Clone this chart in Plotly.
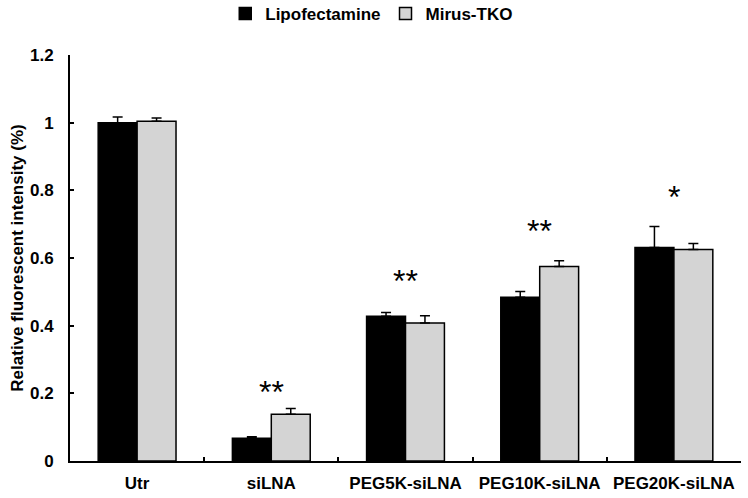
import plotly.graph_objects as go

categories = ["Utr", "siLNA", "PEG5K-siLNA", "PEG10K-siLNA", "PEG20K-siLNA"]
lipo_vals = [1.0, 0.067, 0.428, 0.484, 0.631]
lipo_err = [0.017, 0.005, 0.011, 0.017, 0.062]
mirus_vals = [1.004, 0.138, 0.408, 0.575, 0.625]
mirus_err = [0.010, 0.017, 0.021, 0.017, 0.018]
sig_labels = ["", "**", "**", "**", "*"]
sig_y = [None, 0.205, 0.533, 0.68, 0.78]
y_ticks = [0, 0.2, 0.4, 0.6, 0.8, 1.0, 1.2]
y_ticktext = ["0", "0.2", "0.4", "0.6", "0.8", "1", "1.2"]

font_family = "Liberation Sans, Arial, sans-serif"

fig = go.Figure()
fig.add_trace(go.Bar(
    name="<b>Lipofectamine</b>", x=categories, y=lipo_vals,
    marker=dict(color="black", line=dict(color="black", width=1.5)),
    error_y=dict(type="data", array=lipo_err, arrayminus=[0]*5, symmetric=False,
                 color="black", thickness=1.5, width=5),
))
fig.add_trace(go.Bar(
    name="<b>Mirus-TKO</b>", x=categories, y=mirus_vals,
    marker=dict(color="#d4d4d4", line=dict(color="black", width=1.5)),
    error_y=dict(type="data", array=mirus_err, arrayminus=[0]*5, symmetric=False,
                 color="black", thickness=1.5, width=5),
))

for c, lab, yy in zip(categories, sig_labels, sig_y):
    if lab:
        fig.add_annotation(x=c, y=yy, text=lab, showarrow=False,
                           font=dict(size=32, color="black", family=font_family),
                           xanchor="center", yanchor="middle")

fig.update_layout(
    width=748, height=498,
    margin=dict(l=70, r=7, t=55, b=37, autoexpand=False),
    paper_bgcolor="white", plot_bgcolor="white",
    barmode="group", bargap=0.42, bargroupgap=0,
    font=dict(family=font_family, size=14, color="black"),
    showlegend=True,
    legend=dict(orientation="h", xref="container", yref="container",
                x=0.497, xanchor="center", y=0.972, yanchor="middle",
                font=dict(size=17, family=font_family), itemwidth=30,
                traceorder="normal"),
)
fig.update_xaxes(
    showline=True, linecolor="black", linewidth=2,
    ticks="inside", tickson="boundaries", ticklen=4, tickwidth=2, tickcolor="black",
    tickfont=dict(size=17, family=font_family),
    tickprefix="<b>", ticksuffix="</b>", ticklabelstandoff=6,
)
fig.update_yaxes(
    range=[0, 1.2], tickvals=y_ticks, ticktext=["<b>%s</b>" % t for t in y_ticktext],
    showline=True, linecolor="black", linewidth=2, showgrid=False, zeroline=False,
    ticks="inside", ticklen=4, tickwidth=2, tickcolor="black",
    tickfont=dict(size=17, family=font_family), ticklabelstandoff=11,
    title=dict(text="<b>Relative fluorescent intensity (%)</b>", font=dict(size=17), standoff=2),
)

fig.write_html("out.html", config={"displayModeBar": False},
               post_script="document.body.style.margin='0';document.body.style.overflow='hidden';")
